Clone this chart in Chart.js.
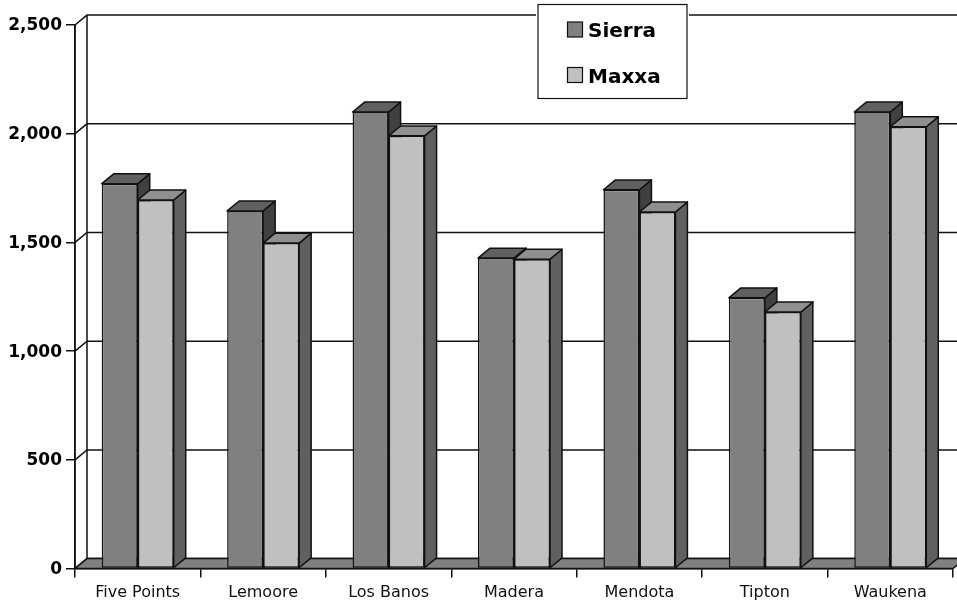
<!DOCTYPE html>
<html>
<head>
<meta charset="utf-8">
<style>html,body{margin:0;padding:0;background:#fff}canvas{display:block}</style>
<script src="https://cdn.jsdelivr.net/npm/chart.js@4"></script>
</head>
<body>
<canvas id="c" width="957" height="605"></canvas>
<script>
const categories = ['Five Points','Lemoore','Los Banos','Madera','Mendota','Tipton','Waukena'];
const sierra = [1770,1645,2100,1428,1742,1245,2100];
const maxxa  = [1695,1497,1990,1423,1640,1180,2032];
const LINE = '#111';
const DX = 12, DY = 9.9;
const sideColors = ['#404040','#606060'];
const topColors  = ['#606060','#8f8f8f'];

function poly(ctx, pts, fill){
  ctx.beginPath();
  pts.forEach((p,i)=> i ? ctx.lineTo(p[0],p[1]) : ctx.moveTo(p[0],p[1]));
  ctx.closePath();
  ctx.fillStyle = fill; ctx.fill();
  ctx.strokeStyle = LINE; ctx.lineWidth = 1.5; ctx.lineJoin='round'; ctx.stroke();
}

const threeD = {
  id:'threeD',
  beforeDatasetsDraw(chart){
    const ctx = chart.ctx, a = chart.chartArea, y = chart.scales.y;
    ctx.save();
    ctx.strokeStyle = LINE; ctx.lineWidth = 1.5;
    y.ticks.forEach(t=>{
      const py = y.getPixelForValue(t.value);
      ctx.beginPath();
      ctx.moveTo(a.left,py); ctx.lineTo(a.left+DX,py-DY); ctx.lineTo(a.right+DX,py-DY);
      ctx.stroke();
    });
    ctx.beginPath();
    ctx.moveTo(a.left+DX,a.top-DY); ctx.lineTo(a.left+DX,a.bottom-DY);
    ctx.moveTo(a.left,a.top); ctx.lineTo(a.left,a.bottom);
    ctx.stroke();
    poly(ctx,[[a.left,a.bottom],[a.left+DX,a.bottom-DY],[a.right+DX,a.bottom-DY],[a.right,a.bottom]],'#808080');
    // side and top faces: first series, then second, before the library draws the front faces
    [0,1].forEach(i=>{
      chart.getDatasetMeta(i).data.forEach(b=>{
        const l=b.x-b.width/2, r=b.x+b.width/2, t=b.y, base=b.base;
        poly(ctx,[[r,t],[r+DX,t-DY],[r+DX,base-DY],[r,base]],sideColors[i]);
        poly(ctx,[[l,t],[l+DX,t-DY],[r+DX,t-DY],[r,t]],topColors[i]);
      });
    });
    ctx.restore();
  },
  afterDatasetsDraw(chart){
    const ctx = chart.ctx;
    ctx.save();
    ctx.fillStyle='#fff'; ctx.fillRect(536,2,153,98);
    ctx.strokeStyle=LINE; ctx.lineWidth=1.2; ctx.strokeRect(538,4.5,149,94);
    const rows=[[22,36.7],[67.5,82.7]];
    chart.data.datasets.forEach((d,i)=>{
      ctx.fillStyle=d.backgroundColor; ctx.fillRect(567.5,rows[i][0],15,15);
      ctx.strokeStyle=LINE; ctx.lineWidth=1.2; ctx.strokeRect(567.5,rows[i][0],15,15);
      ctx.fillStyle='#000'; ctx.font='bold 20px "DejaVu Sans"'; ctx.textAlign='left'; ctx.textBaseline='alphabetic';
      ctx.fillText(d.label,588,rows[i][1]);
    });
    ctx.restore();
  }
};

new Chart(document.getElementById('c'),{
  type:'bar',
  data:{labels:categories,datasets:[
    {label:'Sierra',data:sierra,backgroundColor:'#808080',borderColor:LINE,borderWidth:1.5,borderSkipped:false,categoryPercentage:0.574,barPercentage:1},
    {label:'Maxxa',data:maxxa,backgroundColor:'#c0c0c0',borderColor:LINE,borderWidth:1.5,borderSkipped:false,categoryPercentage:0.574,barPercentage:1}
  ]},
  options:{
    responsive:false,animation:false,devicePixelRatio:1,
    layout:{padding:{top:25,right:4,left:0,bottom:0}},
    plugins:{legend:{display:false},tooltip:{enabled:false}},
    scales:{
      x:{
        afterFit(s){s.height=36.5;},
        grid:{display:true,drawOnChartArea:false,drawTicks:true,tickLength:9,color:LINE,lineWidth:1.5,offset:true},
        border:{display:true,color:LINE,width:1.5},
        ticks:{color:'#111',font:{family:'"DejaVu Sans"',size:16},padding:6,maxRotation:0,autoSkip:false}
      },
      y:{
        min:0,max:2500,
        afterFit(s){s.width=75;},
        grid:{display:true,drawOnChartArea:false,drawTicks:true,tickLength:9,color:LINE,lineWidth:1.5},
        border:{display:true,color:LINE,width:1.5},
        ticks:{stepSize:500,color:'#000',font:{family:'"DejaVu Sans"',size:17,weight:'bold'},padding:4,labelOffset:1,
          callback:v=>v.toLocaleString('en-US')}
      }
    }
  },
  plugins:[threeD]
});
</script>
</body>
</html>
